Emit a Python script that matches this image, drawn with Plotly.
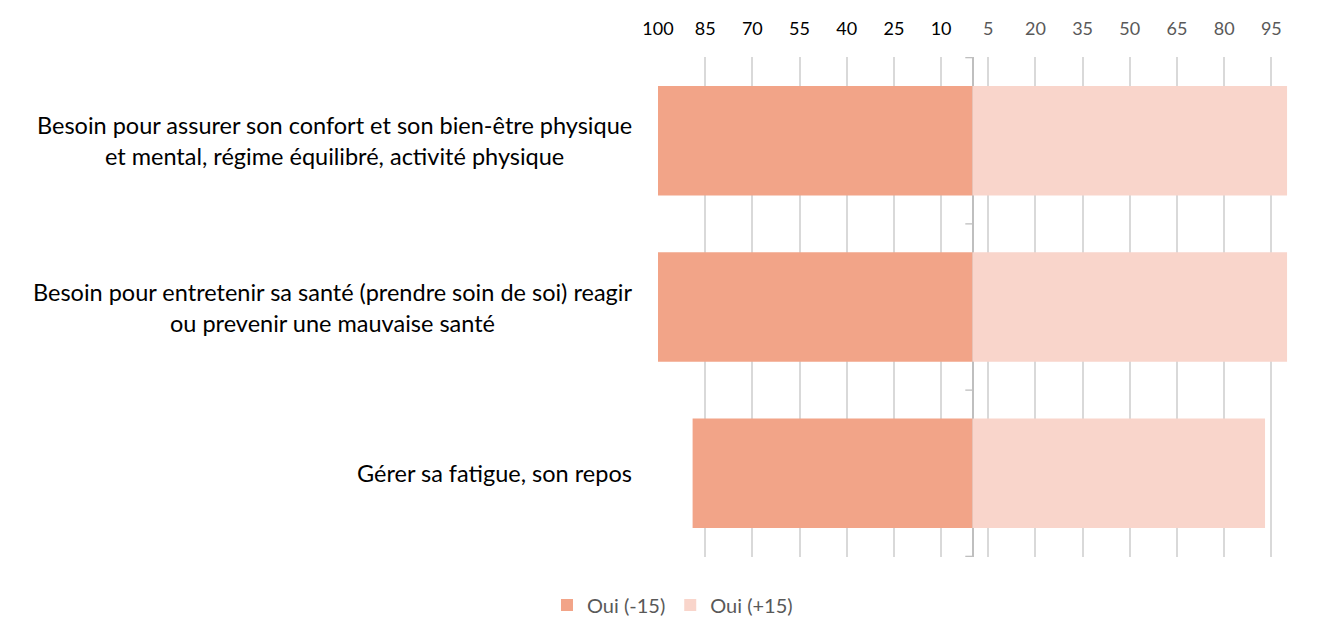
import plotly.graph_objects as go

categories = [
    "Besoin pour assurer son confort et son bien-être physique<br>et mental, régime équilibré, activité physique",
    "Besoin pour entretenir sa santé (prendre soin de soi) reagir<br>ou prevenir une mauvaise santé",
    "Gérer sa fatigue, son repos",
]
oui_moins15 = [100, 100, 89]
oui_plus15 = [100, 100, 93]
series_names = ["Oui (-15)", "Oui (+15)"]
colors = ["#F2A488", "#F9D5CB"]

tick_vals = [-100, -85, -70, -55, -40, -25, -10, 5, 20, 35, 50, 65, 80, 95]
tick_text = [
    (f"<span style='color:#000000'>{abs(v)}</span>" if v < 0 else f"<span style='color:#595959'>{v}</span>")
    for v in tick_vals
]

font_family = "Lato, 'Open Sans', sans-serif"

fig = go.Figure()
fig.add_trace(go.Bar(
    y=categories, x=[-v for v in oui_moins15], orientation="h",
    name=series_names[0], marker=dict(color=colors[0], line=dict(width=0)),
))
fig.add_trace(go.Bar(
    y=categories, x=oui_plus15, orientation="h",
    name=series_names[1], marker=dict(color=colors[1], line=dict(width=0)),
))

# category labels as centered annotations
for c in categories:
    fig.add_annotation(
        x=-0.038, xref="paper", y=c, yref="y", text=c, showarrow=False,
        xanchor="right", yanchor="middle", align="center",
        font=dict(family=font_family, size=23.5, color="#000000"),
    )

# small category tick marks on the zero axis
n = len(categories)
for i in range(n + 1):
    fig.add_shape(type="line", xref="x", yref="y", x0=-2.3, x1=0, y0=i - 0.5, y1=i - 0.5,
                  line=dict(color="#BFBFBF", width=1.3))

fig.update_layout(
    width=1318, height=613,
    margin=dict(l=650, r=38, t=49, b=64, autoexpand=False),
    paper_bgcolor="white", plot_bgcolor="white",
    barmode="relative", bargap=0.34,
    font=dict(family=font_family, size=18, color="#595959"),
    showlegend=True,
    legend=dict(orientation="h", x=0.023, xanchor="center", y=-0.096, yanchor="middle",
                font=dict(family=font_family, size=20, color="#595959"),
                itemwidth=30, tracegroupgap=0),
    xaxis=dict(
        side="top", range=[-100, 100.3], tickmode="array", tickvals=tick_vals, ticktext=tick_text,
        showgrid=True, gridcolor="#D9D9D9", gridwidth=1.5,
        zeroline=True, zerolinecolor="#BFBFBF", zerolinewidth=1.5,
        showline=False, ticks="", ticklabelstandoff=17,
        tickfont=dict(family=font_family, size=18),
    ),
    yaxis=dict(
        autorange="reversed", showticklabels=False, showgrid=False, zeroline=False,
        showline=False, ticks="",
    ),
)

fig.write_html("out.html")
